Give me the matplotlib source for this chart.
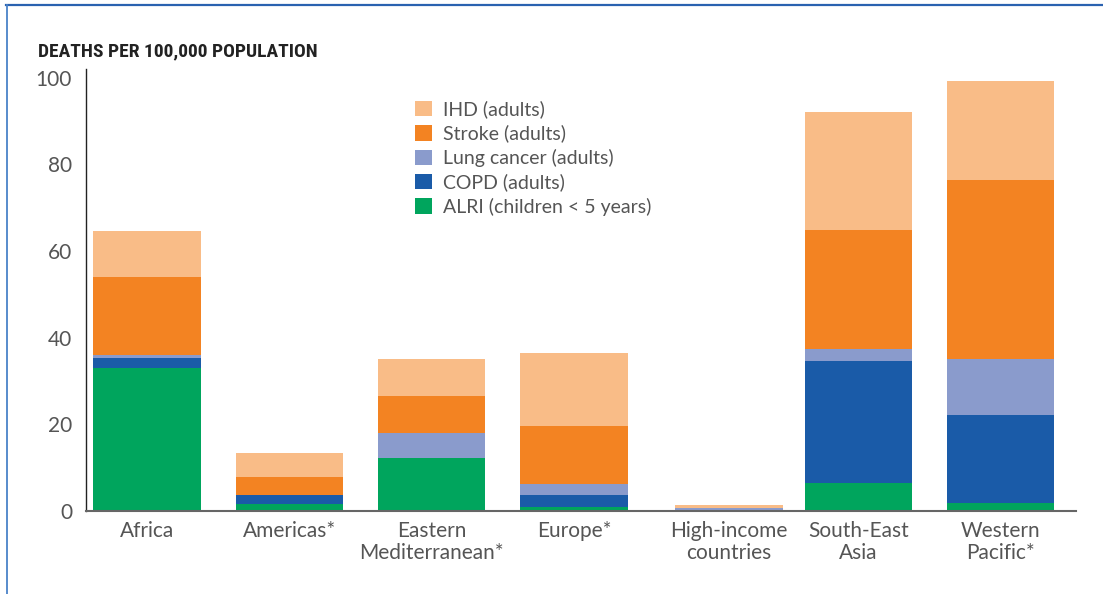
import numpy as np
import matplotlib
matplotlib.use("Agg")
import matplotlib.pyplot as plt
from matplotlib import font_manager
from matplotlib.patches import Patch
from matplotlib.lines import Line2D

# regions (x axis)
regions = ["Africa", "Americas*", "Eastern\nMediterranean*", "Europe*",
           "High-income\ncountries", "South-East\nAsia", "Western\nPacific*"]

# deaths per 100,000, one list per cause (stacked bottom -> top)
alri = [33.0, 1.6, 12.2, 0.9, 0.0, 6.5, 1.8]
copd = [2.3, 2.1, 0.0, 2.8, 0.1, 28.1, 20.4]
lung_cancer = [0.7, 0.0, 5.7, 2.6, 0.5, 2.8, 12.9]
stroke = [17.9, 4.2, 8.7, 13.3, 0.1, 27.5, 41.3]
ihd = [10.8, 5.5, 8.5, 16.9, 0.8, 27.2, 22.9]

series = [
    ("ALRI (children < 5 years)", alri, "#00a55d"),
    ("COPD (adults)", copd, "#1a5ba8"),
    ("Lung cancer (adults)", lung_cancer, "#8a9bcc"),
    ("Stroke (adults)", stroke, "#f38322"),
    ("IHD (adults)", ihd, "#f9bc87"),
]

plt.rcParams['font.family'] = ['Lato', 'DejaVu Sans']
grey = "#555555"

# a narrow bold face for the title if one is there
names = set(f.name for f in font_manager.fontManager.ttflist)
title_font, title_size = 'Roboto', 12.5
for cand in ['Liberation Sans Narrow', 'Roboto Condensed', 'Open Sans Condensed', 'DejaVu Sans Condensed']:
    if cand in names:
        title_font, title_size = cand, 14
        break

fig = plt.figure(figsize=(11.03, 5.94), dpi=100)
ax = fig.add_axes([86 / 1103, 1 - 511 / 594, (1076 - 86) / 1103, (511 - 69) / 594])

xpos = np.arange(len(regions), dtype=float)
xpos[4] += 0.09  # high-income bar sits a bit to the right
bottom = np.zeros(len(regions))
for name, vals, col in series:
    ax.bar(xpos, vals, width=0.755, bottom=bottom, color=col, linewidth=0)
    bottom += np.array(vals)

ax.set_xlim(-0.43, 6.53)
ax.set_ylim(0, 102)
ax.set_yticks([0, 20, 40, 60, 80, 100])
ax.set_xticks(xpos)
ax.set_xticklabels(regions, fontsize=15, color=grey, linespacing=1.15)
ax.tick_params(axis='both', length=0, labelsize=15, labelcolor=grey)
ax.tick_params(axis='y', pad=10)
ax.tick_params(axis='x', pad=7)

for s in ["top", "right"]:
    ax.spines[s].set_visible(False)
ax.spines["left"].set_color("#222222")
ax.spines["left"].set_linewidth(1.0)
ax.spines["bottom"].set_color("#666666")
ax.spines["bottom"].set_linewidth(1.5)

# legend, IHD on top
handles = [Patch(facecolor=col, edgecolor='none', label=name) for name, vals, col in series[::-1]]
leg = ax.legend(handles=handles, loc='upper left', bbox_to_anchor=(0.323, 0.951),
                frameon=False, fontsize=14, handlelength=0.85, handleheight=0.85,
                handletextpad=0.55, labelspacing=0.33, borderpad=0)
for t in leg.get_texts():
    t.set_color(grey)

fig.text(38 / 1103, 1 - 51 / 594, "DEATHS PER 100,000 POPULATION",
         fontsize=title_size, fontweight='bold', color="#222222", va='center', ha='left',
         family=[title_font, 'DejaVu Sans'])

# blue frame along top and left
fig.add_artist(Line2D([6 / 1103, 1], [1 - 5 / 594, 1 - 5 / 594], transform=fig.transFigure,
                      color="#2a62b0", linewidth=1.6))
fig.add_artist(Line2D([6.5 / 1103, 6.5 / 1103], [0, 1 - 5 / 594], transform=fig.transFigure,
                      color="#4a82c8", linewidth=1.3))

fig.savefig("out.png", dpi=100)
